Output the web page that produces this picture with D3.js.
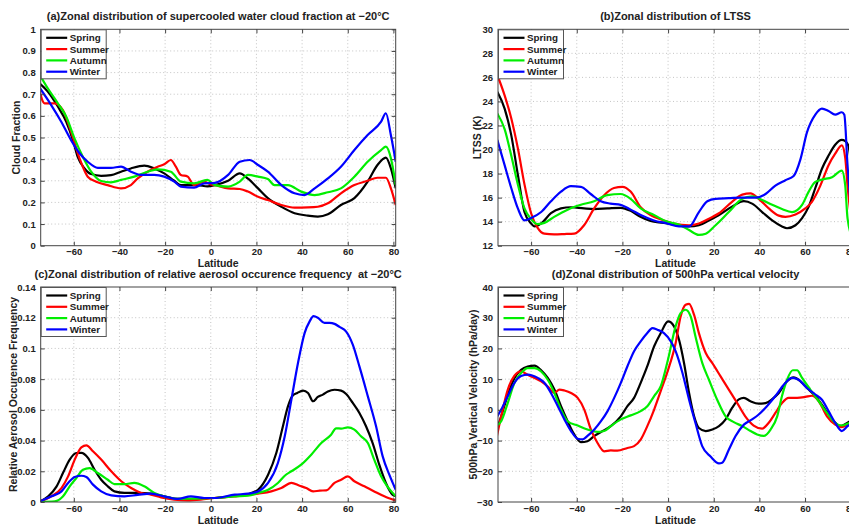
<!DOCTYPE html>
<html>
<head>
<meta charset="utf-8">
<script src="https://cdn.jsdelivr.net/npm/d3@7/dist/d3.min.js"></script>
<style>
  html, body { margin: 0; padding: 0; background: #fff; }
  svg { display: block; font-family: "Liberation Sans", Arial, Helvetica, sans-serif; }
</style>
</head>
<body>
<svg id="chart" width="849" height="525"></svg>
<script>
// ---- Seasons ----
const seasons = ["Spring", "Summer", "Autumn", "Winter"];
const seasonColors = ["#000000", "#ff0000", "#00ee00", "#0000ff"];

// ---- Latitude ticks ----
const latTicks = [-60, -40, -20, 0, 20, 40, 60, 80];

// ---- (a) supercooled water cloud fraction at -20°C, [latitude, fraction] ----
const cloudSpring = [[-75,0.75],[-71.4,0.712],[-67,0.643],[-63.3,0.573],[-60.4,0.488],[-58.3,0.41],[-55.3,0.357],[-52.4,0.331],[-48,0.323],[-43.7,0.326],[-39.3,0.342],[-35,0.357],[-29.1,0.37],[-24.8,0.357],[-20.4,0.334],[-16,0.30],[-13.1,0.28],[-5.9,0.28],[-1.5,0.274],[1.8,0.28],[7.6,0.30],[12.7,0.334],[16.3,0.31],[20.7,0.265],[25,0.22],[30.9,0.18],[36.7,0.15],[42.5,0.139],[46.9,0.134],[51.3,0.145],[57,0.188],[62.9,0.22],[68.7,0.296],[73,0.373],[76.7,0.407],[78.9,0.357],[81,0.265]];
const cloudSummer = [[-75.3,0.727],[-72.8,0.658],[-68.4,0.658],[-64.8,0.627],[-61.2,0.527],[-57.5,0.404],[-53.9,0.319],[-50.2,0.296],[-45.2,0.28],[-39.3,0.265],[-35,0.28],[-32,0.311],[-27.7,0.342],[-23.3,0.365],[-20.4,0.376],[-17.5,0.396],[-15.3,0.365],[-13.1,0.327],[-10.2,0.32],[-7.3,0.28],[-2.9,0.296],[0,0.283],[1.8,0.28],[7.6,0.265],[12.7,0.262],[16.3,0.25],[20.7,0.226],[25,0.211],[30.9,0.188],[36.7,0.176],[42.5,0.177],[46.9,0.18],[51.3,0.196],[57,0.242],[62.9,0.28],[68.7,0.30],[73,0.314],[76.7,0.314],[78.9,0.265],[81,0.188]];
const cloudAutumn = [[-75.3,0.797],[-71.4,0.727],[-67,0.658],[-63.3,0.596],[-59.7,0.496],[-56,0.41],[-52.4,0.342],[-48,0.299],[-43.7,0.293],[-39.3,0.304],[-33.5,0.319],[-27.7,0.342],[-23.3,0.353],[-17.5,0.342],[-13.1,0.296],[-7.3,0.288],[-1.5,0.304],[1.8,0.28],[7.6,0.273],[12.7,0.296],[16.3,0.327],[20.7,0.319],[25,0.308],[27.9,0.28],[33.8,0.28],[39.6,0.25],[45.5,0.234],[51.3,0.247],[57,0.265],[62.9,0.319],[68.7,0.388],[74.6,0.442],[76.7,0.458],[78.9,0.404],[81,0.28]];
const cloudWinter = [[-75.3,0.735],[-69.9,0.65],[-65.5,0.573],[-61.2,0.488],[-57.5,0.427],[-53.9,0.388],[-49.5,0.36],[-43.7,0.36],[-39.3,0.365],[-35,0.342],[-30.6,0.327],[-24.8,0.327],[-20.4,0.319],[-16,0.296],[-13.1,0.273],[-7.3,0.268],[-2.9,0.288],[1.8,0.29],[7.6,0.327],[12.7,0.388],[17,0.396],[20.7,0.373],[25,0.342],[30.9,0.28],[36.7,0.242],[41,0.234],[45.5,0.265],[51.3,0.311],[57,0.365],[62.9,0.442],[68.7,0.511],[74.6,0.573],[76.7,0.612],[78.9,0.51],[81,0.388]];
const cloudTicks = [0,0.1,0.2,0.3,0.4,0.5,0.6,0.7,0.8,0.9,1];

// ---- (b) LTSS (K), [latitude, K] ----
const ltssSpring = [[-74.8,24.8],[-71.6,23.4],[-68.7,21.2],[-65.8,17.9],[-62.9,14.8],[-60,13.85],[-58.5,13.6],[-55.6,13.85],[-51.3,14.7],[-46.9,15.1],[-42.6,15.2],[-36.8,15.1],[-32.4,15.05],[-26.6,15.1],[-20.8,15.15],[-16.4,14.9],[-12.1,14.4],[-7.7,14.05],[-1.9,13.9],[2.5,13.75],[9.2,13.6],[13.5,13.7],[17.9,14.1],[22.3,14.55],[28,15.25],[33.2,15.7],[36.8,15.5],[41.2,14.8],[45.6,14.1],[49.9,13.6],[52.1,13.45],[55.8,13.7],[58.7,14.3],[61.6,15.25],[64.5,16.8],[67.4,18.4],[70.3,19.5],[73.2,20.4],[76.1,20.8],[77.6,20.7],[79,20.3],[81,17]];
const ltssSummer = [[-74.8,26.2],[-71.6,24.5],[-68.7,22.6],[-65.8,20.1],[-62.9,17.1],[-60,14.7],[-57.2,13.5],[-54.2,13.0],[-49.9,12.95],[-45.5,12.97],[-41.1,13.0],[-36.8,13.7],[-32.4,15.1],[-28,16.2],[-23.7,16.8],[-20,16.9],[-16.4,16.5],[-12,15.2],[-7.7,14.55],[-1.9,14.1],[2.5,13.85],[9.2,13.7],[13.5,13.85],[17.9,14.25],[22.3,14.7],[28,15.65],[32.5,16.25],[36.1,16.35],[39.7,15.9],[44.1,15.1],[48.5,14.5],[51.4,14.4],[55.8,14.6],[60.1,15.1],[63,15.65],[66.7,17.0],[70.3,18.7],[73.2,19.65],[76.1,20.35],[77.6,19.3],[78.6,17],[81,13]];
const ltssAutumn = [[-74.8,23.0],[-71.6,21.7],[-68.7,19.5],[-65.8,17.1],[-62.9,15.1],[-60,14.2],[-57.2,13.8],[-54.2,13.9],[-49.9,14.4],[-44,15.0],[-38.2,15.4],[-32.4,15.7],[-26.6,16.2],[-20.8,16.3],[-16.4,15.9],[-12,15.1],[-6.2,14.55],[-0.4,14.0],[4.8,13.75],[9.2,13.3],[13.5,12.9],[16.5,13.0],[20.8,13.7],[26.6,14.8],[32.5,15.9],[36.8,16.1],[41.2,15.8],[45.6,15.4],[49.9,15.05],[54.3,14.8],[58.7,15.4],[61.6,16.5],[64.5,17.3],[67.4,17.5],[71.8,17.7],[76.1,18.25],[77.6,17],[78.6,14.3],[81,12.5]];
const ltssWinter = [[-74.8,20.8],[-71.6,18.7],[-68.7,16.8],[-65.8,15.1],[-62.9,14.1],[-60,14.3],[-55.6,14.8],[-51.3,15.7],[-46.9,16.5],[-42.6,16.95],[-38.2,16.9],[-33.9,16.3],[-29.5,15.7],[-25.2,15.5],[-20.8,15.4],[-16.4,15.0],[-12,14.55],[-6.2,14.1],[-0.4,13.85],[4.8,13.6],[9.2,13.6],[13.5,14.8],[17.2,15.7],[20.8,15.9],[26.6,15.95],[32.5,16.0],[38.3,16.0],[42.7,16.3],[47,17.0],[51.4,17.45],[55,17.8],[58,19.2],[60.8,21.4],[64.5,22.9],[67.4,23.4],[70.3,23.2],[73.2,22.9],[76.1,23.1],[77.2,22.9],[78.6,18.7],[81,13.5]];
const ltssTicks = [12,14,16,18,20,22,24,26,28,30];

// ---- (c) relative aerosol occurrence frequency at -20°C, [latitude, frequency] ----
const aeroSpring = [[-74.8,0.0004],[-71.2,0.0037],[-67.6,0.010],[-64.7,0.019],[-61.8,0.0276],[-58.9,0.0319],[-56.7,0.032],[-53.8,0.0287],[-50.9,0.021],[-48,0.0145],[-45.1,0.0102],[-42.2,0.0069],[-37.8,0.0059],[-32,0.0059],[-26.2,0.0054],[-20.4,0.0037],[-14.5,0.002],[-8.7,0.0019],[-2.9,0.0026],[1.8,0.0026],[10.5,0.0041],[16.3,0.0052],[20.7,0.008],[25.1,0.0178],[28.7,0.0319],[31.6,0.0493],[33.8,0.0623],[35.6,0.0688],[37.9,0.071],[40.4,0.0725],[42.6,0.071],[44.8,0.0656],[46.9,0.0684],[49.1,0.0699],[51.3,0.072],[54.2,0.0731],[57.1,0.0725],[59.3,0.0703],[62.2,0.0645],[65.1,0.058],[68,0.0493],[70.9,0.0384],[73.8,0.0243],[76.7,0.0124],[79.6,0.0048],[81,0.0037]];
const aeroSummer = [[-74.8,0.0004],[-69.8,0.0037],[-65.4,0.0091],[-62.5,0.0167],[-59.6,0.0276],[-56.7,0.0356],[-54.5,0.0369],[-51.6,0.033],[-48,0.0276],[-43.6,0.02],[-39.2,0.0135],[-34.9,0.0091],[-30.5,0.0059],[-26.2,0.0048],[-21.8,0.003],[-16,0.0015],[-10.2,0.001],[-4.4,0.0015],[1.5,0.0026],[10.5,0.0037],[20.7,0.0054],[26.5,0.0069],[30.9,0.0091],[35.3,0.0124],[38.9,0.0106],[41.8,0.0091],[44.8,0.0069],[47.7,0.0074],[50.6,0.0076],[54.2,0.0124],[57.1,0.0145],[60,0.0167],[62.9,0.0135],[67.3,0.0102],[71.6,0.0069],[76,0.0037],[81,0.0009]];
const aeroAutumn = [[-74.8,0.0],[-68.3,0.0004],[-64.7,0.0037],[-61.8,0.0102],[-58.9,0.0156],[-56,0.021],[-53.1,0.0221],[-49.5,0.0189],[-45.1,0.0145],[-42.2,0.0117],[-37.8,0.0117],[-33.5,0.0124],[-29.1,0.0102],[-24.7,0.0059],[-20.4,0.0037],[-14.5,0.002],[-8.7,0.0022],[-2.9,0.0024],[1.8,0.0026],[10.5,0.0037],[16.3,0.0041],[20.7,0.0059],[25.1,0.008],[29.4,0.0124],[32.4,0.0171],[35.3,0.02],[39.6,0.0243],[44,0.0308],[48.4,0.0384],[52.7,0.0438],[54.9,0.048],[57.1,0.0478],[60,0.0486],[62.9,0.0471],[65.8,0.0428],[68.8,0.0384],[71.6,0.0276],[74.6,0.0167],[77.5,0.0098],[81,0.0037]];
const aeroWinter = [[-74.8,0.0004],[-69.8,0.0037],[-65.4,0.0069],[-62.5,0.0124],[-59.6,0.0163],[-56.7,0.0171],[-54.5,0.0163],[-51.6,0.0113],[-48,0.0069],[-43.6,0.0043],[-37.8,0.0037],[-32,0.0046],[-26.2,0.0054],[-20.4,0.0037],[-14.5,0.002],[-8.7,0.0037],[-2.9,0.0026],[1.8,0.0026],[10.5,0.0048],[16.3,0.0054],[20.7,0.0069],[25.1,0.0124],[29.4,0.0254],[32.4,0.0428],[35.3,0.0666],[38.2,0.0905],[41.1,0.110],[43.3,0.1176],[45,0.121],[46.9,0.120],[49.8,0.1166],[52,0.1166],[54.2,0.116],[56.4,0.114],[59.3,0.111],[62.2,0.1025],[65.1,0.0883],[68.8,0.0688],[72.4,0.0493],[75.3,0.0297],[78.2,0.0178],[81,0.008]];
const aeroTicks = [0,0.02,0.04,0.06,0.08,0.1,0.12,0.14];

// ---- (d) 500hPa vertical velocity (hPa/day), [latitude, hPa/day] ----
const omegaSpring = [[-75.3,-7.0],[-73.1,-2.1],[-70.2,4.9],[-67.3,10.3],[-64.4,13.0],[-61.5,14.1],[-58.5,14.4],[-55.6,12.9],[-52.7,10.4],[-49.8,6.6],[-46.9,1.2],[-44,-3.7],[-41.1,-8.0],[-38.2,-10.5],[-35.3,-10.2],[-32.3,-8.5],[-29.4,-7.2],[-25.1,-5.3],[-20.7,-2.1],[-17.8,1.2],[-14.9,3.9],[-12,8.8],[-9.1,14.2],[-6.1,20.7],[-3.2,25.0],[0,28.8],[2.6,27.2],[4.8,22.8],[7,15.2],[9.2,5.5],[11.4,-2.1],[13.5,-5.9],[16.5,-6.9],[19.4,-6.4],[22.3,-5.3],[25.2,-3.1],[28.1,0.7],[31,3.4],[33.2,3.9],[36.1,2.8],[39.7,2.0],[42.7,2.2],[45.6,3.5],[48.5,5.5],[52.1,9.3],[55,10.6],[58,9.3],[61.6,6.6],[65.2,3.9],[68.8,0.1],[72.5,-3.7],[75.4,-5.3],[78.6,-4.2],[81,-3]];
const omegaSummer = [[-75.6,-10.8],[-73.1,-2.1],[-70.2,6.6],[-67.3,11.1],[-64.4,12.5],[-61.5,11.4],[-58.5,10.4],[-55.6,9.3],[-52.7,7.6],[-49.8,5.5],[-47.6,6.6],[-45.4,6.3],[-42.5,5.5],[-39.6,3.9],[-36.7,0.1],[-33.8,-6.4],[-30.9,-10.8],[-28,-13.5],[-25.1,-13.2],[-22.2,-13.3],[-17.8,-12.4],[-14.9,-11.8],[-12,-9.7],[-9.1,-5.3],[-6.1,0.1],[-3.2,6.2],[0,13],[3.3,21.7],[5.5,30.4],[7.7,34.2],[9.2,34.5],[11.4,30.9],[13.5,25.0],[16.5,18.5],[19.4,15.2],[23,10.9],[26.6,6.6],[30.3,2.2],[33.8,-2.1],[37.5,-5.1],[41.2,-6.1],[44.1,-4.2],[47,-1.0],[49.9,2.2],[52.8,3.9],[56.5,3.9],[60.1,4.2],[63,4.6],[66,2.8],[69.6,-2.1],[73.2,-4.8],[76.1,-5.6],[78.6,-4.8],[81,-4]];
const omegaAutumn = [[-75.6,-5.3],[-73.1,-3.7],[-70.2,2.3],[-67.3,8.8],[-64.4,12.0],[-61.5,13.6],[-58.5,13.6],[-55.6,12.5],[-52.7,9.8],[-49.8,5.5],[-46.9,0.1],[-44,-3.7],[-39.6,-5.1],[-35.3,-6.4],[-30.9,-7.2],[-28,-6.9],[-25.1,-5.3],[-20.7,-3.1],[-16.4,-1.8],[-12,-0.4],[-9.1,1.2],[-6.1,4.5],[-3.2,7.7],[0,16.5],[3.3,27.2],[5.5,31.5],[7.7,32.6],[9.9,30.4],[12,23.9],[15,15.2],[17.9,9.8],[21.5,3.3],[25.2,-2.1],[28.8,-4.0],[32.5,-5.3],[36.1,-6.9],[39,-8.0],[41.9,-8.5],[44.9,-6.4],[47.8,-2.1],[49.9,4.5],[52.1,9.8],[54.6,12.9],[56.5,12.9],[58.7,10.4],[62.3,6.6],[66,2.8],[69.6,-1.0],[73.2,-4.2],[76.1,-5.1],[78.6,-4.5],[81,-4]];
const omegaWinter = [[-75.3,-2.7],[-73.1,0.1],[-70.2,4.5],[-67.3,8.8],[-64.4,11.0],[-61.5,11.5],[-57.1,10.4],[-54.2,8.8],[-51.3,5.5],[-48.3,1.2],[-45.4,-3.1],[-42.5,-6.9],[-39.6,-9.4],[-37.4,-9.6],[-35.3,-8.5],[-32.3,-6.4],[-29.4,-3.7],[-26.5,-0.4],[-23.6,3.9],[-20.7,8.8],[-17.8,14.2],[-14.9,19.1],[-12,22.3],[-9.1,25.0],[-6.9,26.6],[-4.7,26.1],[-1.8,25.0],[1.2,22.3],[3.3,19.1],[6.3,12.0],[9.2,3.3],[12,-4.3],[15,-11.9],[18.6,-15.2],[22.3,-17.4],[23.7,-17.2],[26.6,-13.0],[29.5,-8.6],[33.2,-4.8],[36.8,-3.1],[39.7,-1.5],[43.3,1.2],[47,4.5],[50.7,8.2],[54.3,10.4],[57.2,9.8],[60.8,7.1],[64.5,5.0],[67.4,3.3],[70.3,-0.4],[73.2,-4.2],[76.1,-6.9],[78.6,-5.3],[81,-4]];
const omegaTicks = [-30,-20,-10,0,10,20,30,40];

// ---- Panel layout ----
const latDomain = [-74.5, 81];
const panels = [
  { id: "a", left: 40.7, right: 395.7, top: 29.3, bottom: 245.7,
    title: "(a)Zonal distribution of supercooled water cloud fraction at \u221220\u00B0C",
    yLabel: "Cloud Fraction", yLabelX: 16.5, yDomain: [0, 1], yTicks: cloudTicks,
    series: [cloudSpring, cloudSummer, cloudAutumn, cloudWinter] },
  { id: "b", left: 498, right: 853, top: 29.3, bottom: 245.7,
    title: "(b)Zonal distribution of LTSS",
    yLabel: "LTSS (K)", yLabelX: 477, yDomain: [12, 30], yTicks: ltssTicks,
    series: [ltssSpring, ltssSummer, ltssAutumn, ltssWinter] },
  { id: "c", left: 40.7, right: 395.7, top: 287, bottom: 502,
    title: "(c)Zonal distribution of relative aerosol occurence frequency  at \u221220\u00B0C",
    yLabel: "Relative Aerosol Occurence Frequency", yLabelX: 13.5, yDomain: [0, 0.14], yTicks: aeroTicks,
    series: [aeroSpring, aeroSummer, aeroAutumn, aeroWinter] },
  { id: "d", left: 498, right: 853, top: 287, bottom: 502,
    title: "(d)Zonal distribution of 500hPa vertical velocity",
    yLabel: "500hPa Vertical Velocity (hPa/day)", yLabelX: 473, yDomain: [-30, 40], yTicks: omegaTicks,
    series: [omegaSpring, omegaSummer, omegaAutumn, omegaWinter] }
];

const textColor = "#222";
const frameColor = "#444";
const fmt = d => String(+d.toFixed(2)).replace("-", "\u2212");

const svg = d3.select("#chart");

panels.forEach(p => {
  const w = p.right - p.left, h = p.bottom - p.top;
  const x = d3.scaleLinear().domain(latDomain).range([p.left, p.right]);
  const y = d3.scaleLinear().domain(p.yDomain).range([p.bottom, p.top]);
  const g = svg.append("g").attr("class", "panel-" + p.id);

  // dotted grid
  const grid = g.append("g").attr("class", "grid")
    .attr("stroke", "#b5b5b5").attr("stroke-width", 0.8).attr("stroke-dasharray", "1,2.5");
  grid.selectAll("line.gx").data(latTicks).join("line").attr("class", "gx")
    .attr("x1", d => x(d)).attr("x2", d => x(d)).attr("y1", p.top).attr("y2", p.bottom);
  grid.selectAll("line.gy").data(p.yTicks.slice(1, -1)).join("line").attr("class", "gy")
    .attr("x1", p.left).attr("x2", p.right).attr("y1", d => y(d)).attr("y2", d => y(d));

  // series lines
  svg.append("defs").append("clipPath").attr("id", "clip-" + p.id)
    .append("rect").attr("x", p.left).attr("y", p.top).attr("width", w).attr("height", h);
  const line = d3.line().x(d => x(d[0])).y(d => y(d[1])).curve(d3.curveMonotoneX);
  g.append("g").attr("clip-path", `url(#clip-${p.id})`)
    .selectAll("path").data(p.series).join("path")
    .attr("d", line).attr("fill", "none")
    .attr("stroke", (d, i) => seasonColors[i]).attr("stroke-width", 2.2)
    .attr("stroke-linejoin", "round");

  // axes with inward ticks
  const xAxis = d3.axisBottom(x).tickValues(latTicks).tickFormat(fmt).tickSize(-4).tickPadding(3);
  const yAxis = d3.axisLeft(y).tickValues(p.yTicks).tickFormat(fmt).tickSize(-4).tickPadding(5);
  const gx = g.append("g").attr("transform", `translate(0,${p.bottom})`).call(xAxis);
  const gy = g.append("g").attr("transform", `translate(${p.left},0)`).call(yAxis);
  [gx, gy].forEach(a => {
    a.select(".domain").remove();
    a.selectAll(".tick line").attr("stroke", frameColor);
    a.selectAll(".tick text").attr("fill", textColor)
      .style("font-size", "9.5px").style("font-weight", "bold")
      .style("font-family", "'Liberation Sans', Arial, sans-serif");
  });
  // top / right ticks
  g.append("g").call(d3.axisTop(x).tickValues(latTicks).tickSize(-4).tickFormat(""))
    .attr("transform", `translate(0,${p.top})`)
    .call(a => { a.select(".domain").remove(); a.selectAll("line").attr("stroke", frameColor); });
  g.append("g").call(d3.axisRight(y).tickValues(p.yTicks).tickSize(-4).tickFormat(""))
    .attr("transform", `translate(${p.right},0)`)
    .call(a => { a.select(".domain").remove(); a.selectAll("line").attr("stroke", frameColor); });

  // frame
  g.append("rect").attr("x", p.left).attr("y", p.top).attr("width", w).attr("height", h)
    .attr("fill", "none").attr("stroke", frameColor).attr("stroke-width", 1);

  // title and axis labels
  g.append("text").attr("x", (p.left + p.right) / 2).attr("y", p.top - 9)
    .attr("text-anchor", "middle").attr("fill", textColor)
    .style("white-space", "pre")
    .style("font-size", "11px").style("font-weight", "bold").text(p.title);
  g.append("text").attr("x", (p.left + p.right) / 2).attr("y", p.bottom + 21.5)
    .attr("text-anchor", "middle").attr("fill", textColor)
    .style("font-size", "10.5px").style("font-weight", "bold").text("Latitude");
  g.append("text")
    .attr("transform", `translate(${p.yLabelX},${(p.top + p.bottom) / 2}) rotate(-90)`)
    .attr("dy", "0.35em").attr("text-anchor", "middle").attr("fill", textColor)
    .style("font-size", "10.5px").style("font-weight", "bold").text(p.yLabel);

  // legend
  const lg = g.append("g").attr("transform", `translate(${p.left + 0.5},${p.top + 0.5})`);
  lg.append("rect").attr("width", 65).attr("height", 49)
    .attr("fill", "#fff").attr("stroke", "#555").attr("stroke-width", 1);
  seasons.forEach((s, i) => {
    const yy = 8 + i * 11.3;
    lg.append("line").attr("x1", 5).attr("x2", 26).attr("y1", yy).attr("y2", yy)
      .attr("stroke", seasonColors[i]).attr("stroke-width", 2.2);
    lg.append("text").attr("x", 28.5).attr("y", yy).attr("dy", "0.35em")
      .attr("fill", textColor).style("font-size", "9.8px").style("font-weight", "bold").text(s);
  });
});
</script>
</body>
</html>
